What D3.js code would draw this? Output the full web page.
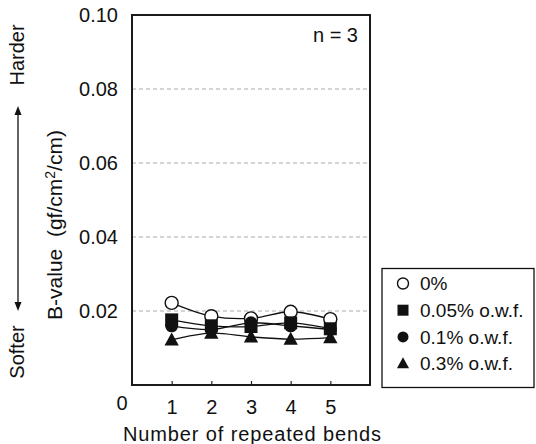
<!DOCTYPE html>
<html>
<head>
<meta charset="utf-8">
<script src="https://cdn.jsdelivr.net/npm/d3@7"></script>
<style>
  body { margin: 0; background: #fff; }
  svg text { font-family: Arial, "Liberation Sans", Helvetica, sans-serif; fill: #111; white-space: pre; }
</style>
</head>
<body>
<div id="chart"></div>
<script>
  'use strict';

  // bends on the x axis
  var bends = [1, 2, 3, 4, 5];
  var seriesNames = ['0%', '0.05% o.w.f.', '0.1% o.w.f.', '0.3% o.w.f.'];
  var seriesShapes = ['openCircle', 'square', 'circle', 'triangle'];
  // B-values
  var valuesNone = [0.0222, 0.0186, 0.0180, 0.0198, 0.0178];
  var values005 = [0.0176, 0.0160, 0.0158, 0.0168, 0.0152];
  var values01 = [0.0160, 0.0150, 0.0168, 0.0160, 0.0150];
  var values03 = [0.0122, 0.0140, 0.0130, 0.0124, 0.0128];
  var yTicks = [0.02, 0.04, 0.06, 0.08, 0.10];

  var allSeries = [valuesNone, values005, values01, values03];

  var width = 536, height = 444;
  var svg = d3.select('#chart').append('svg')
    .attr('width', width)
    .attr('height', height);

  var x = d3.scaleLinear().domain([0, 6]).range([132, 370]);
  var y = d3.scaleLinear().domain([0, 0.10]).range([385, 15]);

  // dashed grid lines
  svg.append('g')
    .selectAll('line')
    .data(yTicks.filter(function(d) { return d < 0.1; }))
    .enter().append('line')
      .attr('x1', x(0)).attr('x2', x(6))
      .attr('y1', function(d) { return y(d); })
      .attr('y2', function(d) { return y(d); })
      .attr('stroke', '#aaa')
      .attr('stroke-width', 1)
      .attr('stroke-dasharray', '4,3');

  // y axis labels
  var yAxis = svg.append('g')
    .attr('transform', 'translate(' + x(0) + ',0)')
    .call(d3.axisLeft(y).tickValues(yTicks).tickSize(0).tickPadding(14).tickFormat(d3.format('.2f')));
  yAxis.select('.domain').remove();
  yAxis.selectAll('text').attr('font-size', '20px').attr('font-family', null);

  // x axis with small inward ticks
  var xAxis = svg.append('g')
    .attr('transform', 'translate(0,' + y(0) + ')')
    .call(d3.axisBottom(x).tickValues(bends).tickSize(-4).tickPadding(15).tickFormat(d3.format('d')));
  xAxis.select('.domain').remove();
  xAxis.selectAll('line').attr('stroke', '#222').attr('stroke-width', 1.2);
  xAxis.selectAll('text').attr('font-size', '20px').attr('font-family', null);

  svg.append('text')
    .attr('x', 122).attr('y', 410)
    .attr('text-anchor', 'middle')
    .attr('font-size', '20px')
    .text('0');

  // frame
  svg.append('rect')
    .attr('x', x(0)).attr('y', y(0.10))
    .attr('width', x(6) - x(0))
    .attr('height', y(0) - y(0.10))
    .attr('fill', 'none')
    .attr('stroke', '#1a1a1a')
    .attr('stroke-width', 2);

  // smoothed lines
  var line = d3.line()
    .x(function(d, i) { return x(bends[i]); })
    .y(function(d) { return y(d); })
    .curve(d3.curveCatmullRom);

  svg.append('g')
    .selectAll('path')
    .data(allSeries)
    .enter().append('path')
      .attr('d', line)
      .attr('fill', 'none')
      .attr('stroke', '#111')
      .attr('stroke-width', 1.3);

  // marker drawing
  function drawMarker(sel, shape, size) {
    if (shape === 'openCircle') {
      sel.append('circle').attr('r', size * 0.5)
        .attr('fill', '#fff').attr('stroke', '#111').attr('stroke-width', 1.4);
    } else if (shape === 'circle') {
      sel.append('circle').attr('r', size * 0.5).attr('fill', '#111');
    } else if (shape === 'square') {
      sel.append('rect').attr('x', -size / 2).attr('y', -size / 2)
        .attr('width', size).attr('height', size).attr('fill', '#111');
    } else {
      var h = size * 0.95;
      sel.append('path')
        .attr('d', 'M0,' + (-h * 0.6) + 'L' + (size * 0.55) + ',' + (h * 0.45) + 'L' + (-size * 0.55) + ',' + (h * 0.45) + 'Z')
        .attr('fill', '#111');
    }
  }

  allSeries.forEach(function(vals, s) {
    var g = svg.append('g');
    vals.forEach(function(v, i) {
      var m = g.append('g')
        .attr('transform', 'translate(' + x(bends[i]) + ',' + y(v) + ')');
      drawMarker(m, seriesShapes[s], 13);
    });
  });

  // n = 3
  svg.append('text')
    .attr('x', 358).attr('y', 42)
    .attr('text-anchor', 'end')
    .attr('font-size', '20px')
    .text('n = 3');

  // axis titles
  svg.append('text')
    .attr('x', 252).attr('y', 441)
    .attr('text-anchor', 'middle')
    .attr('font-size', '20px')
    .attr('textLength', 258)
    .text('Number of repeated bends');

  var yTitle = svg.append('text')
    .attr('transform', 'translate(62,225) rotate(-90)')
    .attr('text-anchor', 'middle')
    .attr('font-size', '21px');
  yTitle.append('tspan').text('B-value  (gf/cm');
  yTitle.append('tspan').attr('dy', -7).attr('font-size', '14px').text('2');
  yTitle.append('tspan').attr('dy', 7).text('/cm)');

  // harder / softer arrow
  svg.append('text')
    .attr('transform', 'translate(24,55) rotate(-90)')
    .attr('text-anchor', 'middle')
    .attr('font-size', '20px')
    .text('Harder');
  svg.append('text')
    .attr('transform', 'translate(24,352) rotate(-90)')
    .attr('text-anchor', 'middle')
    .attr('font-size', '20px')
    .text('Softer');

  svg.append('line')
    .attr('x1', 18).attr('x2', 18)
    .attr('y1', 112).attr('y2', 305)
    .attr('stroke', '#111').attr('stroke-width', 1.3);
  svg.append('path').attr('d', 'M18,106L14.5,115L21.5,115Z').attr('fill', '#111');
  svg.append('path').attr('d', 'M18,311L14.5,302L21.5,302Z').attr('fill', '#111');

  // legend
  var legend = svg.append('g');
  legend.append('rect')
    .attr('x', 382).attr('y', 268.5)
    .attr('width', 152).attr('height', 119)
    .attr('fill', '#fff')
    .attr('stroke', '#111')
    .attr('stroke-width', 1.3);

  var rows = legend.selectAll('.row')
    .data(seriesNames)
    .enter().append('g')
      .attr('class', 'row')
      .attr('transform', function(d, i) { return 'translate(403,' + (283.5 + i * 26.7) + ')'; });

  rows.each(function(d, i) {
    drawMarker(d3.select(this), seriesShapes[i], 11);
  });

  rows.append('text')
    .attr('x', 17)
    .attr('dy', '0.35em')
    .attr('font-size', '19px')
    .text(function(d) { return d; });
</script>
</body>
</html>
